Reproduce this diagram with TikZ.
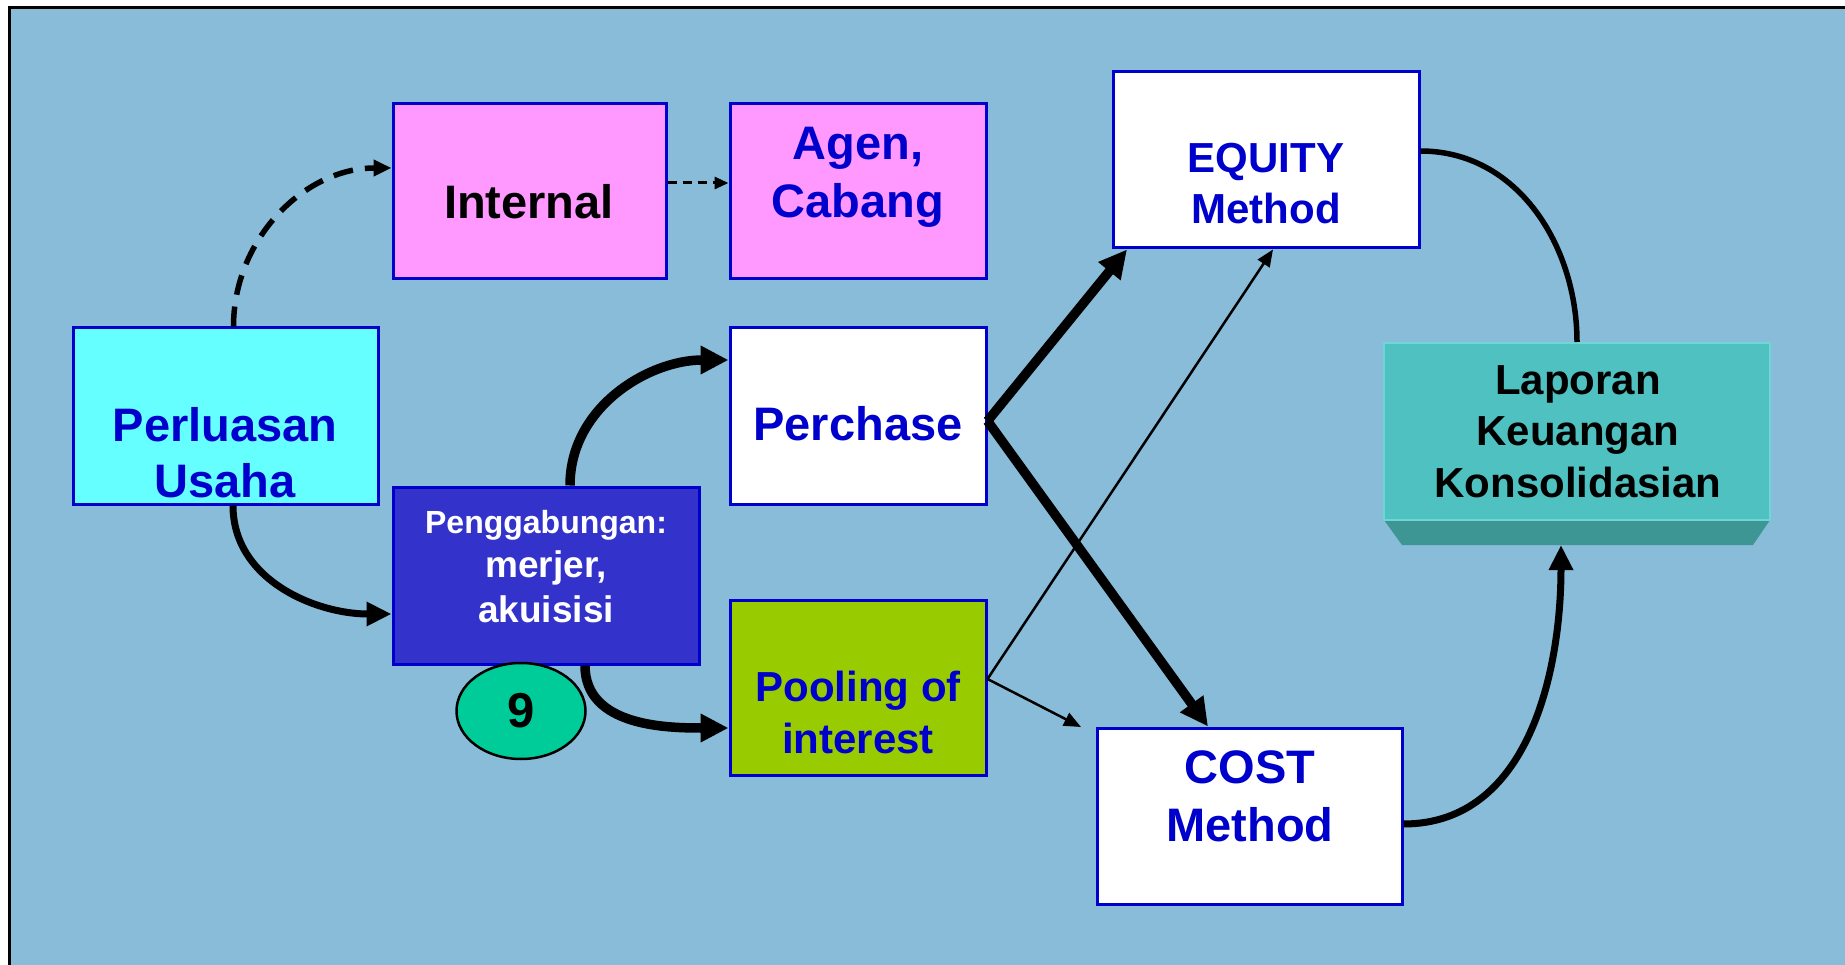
\documentclass[tikz,border=0pt]{standalone}
\usepackage{fontspec}
\setmainfont{Liberation Sans}
\usetikzlibrary{arrows.meta,calc,shapes.geometric}
\definecolor{bgblue}{RGB}{136,188,216}
\definecolor{boxblue}{RGB}{0,0,204}
\definecolor{cyanbox}{RGB}{102,255,255}
\definecolor{pinkbox}{RGB}{255,153,255}
\definecolor{mergebox}{RGB}{51,51,204}
\definecolor{poolbox}{RGB}{153,204,0}
\definecolor{ninefill}{RGB}{0,204,153}
\definecolor{lapface}{RGB}{79,193,193}
\definecolor{lapedge}{RGB}{110,214,214}
\definecolor{lapbevel}{RGB}{61,150,147}
\tikzset{
  chartbox/.style={draw=boxblue, line width=3pt, inner sep=0pt},
  charttext/.style={anchor=base, align=center, inner sep=0pt, font=\bfseries},
  bigtext/.style={charttext, font=\fontsize{47pt}{56pt}\selectfont\bfseries},
  midtext/.style={charttext, font=\fontsize{42pt}{51pt}\selectfont\bfseries},
  thinarrow/.style={line width=2.5pt, -{Triangle[length=17pt,width=14pt]}},
  medarrow/.style={line width=7pt, -{Triangle[length=25pt,width=23pt]}},
  heavyarrow/.style={line width=9.5pt, -{Triangle[length=28pt,width=27pt]}},
  dasharrow/.style={line width=5.5pt, dash pattern=on 20pt off 12pt, -{Triangle[length=18pt,width=16pt]}},
}
\begin{document}
\begin{tikzpicture}[x=1pt, y=1pt]
  \useasboundingbox (0,0) rectangle (1845,-965);
  \fill[white] (0,0) rectangle (1845,-965);
  \fill[bgblue] (9.5,-8) rectangle (1845,-965);
  \draw[line width=3pt] (9.5,-965) -- (9.5,-8) -- (1845,-8);

  % boxes
  \node[chartbox, fill=cyanbox, minimum width=305pt, minimum height=176pt] (perluasan) at (225.5,-416) {};
  \node[chartbox, fill=pinkbox, minimum width=273pt, minimum height=175pt] (internal) at (529.5,-191.5) {};
  \node[chartbox, fill=pinkbox, minimum width=256pt, minimum height=175pt] (agen) at (858,-191.5) {};
  \node[chartbox, fill=white, minimum width=256pt, minimum height=176pt] (perchase) at (858,-416) {};
  \node[chartbox, fill=mergebox, minimum width=306pt, minimum height=177pt] (merger) at (546,-575.5) {};
  \node[chartbox, fill=poolbox, minimum width=256pt, minimum height=175pt] (pooling) at (858,-687.5) {};
  \node[chartbox, fill=white, minimum width=306pt, minimum height=176pt] (equity) at (1266,-160) {};
  \node[chartbox, fill=white, minimum width=305pt, minimum height=176pt] (cost) at (1249.5,-816) {};
  \fill[lapbevel] (1384,-520) -- (1770,-520) -- (1753,-545) -- (1402,-545) -- cycle;
  \node[draw=lapedge, line width=2pt, fill=lapface, minimum width=386pt, minimum height=177pt] (laporan) at (1577,-431.5) {};
  \coordinate (lapbase) at (1561,-545);
  \node[ellipse, draw, line width=2.5pt, fill=ninefill, minimum width=129pt, minimum height=96pt, inner sep=0pt,
    font=\fontsize{49pt}{56pt}\selectfont\bfseries] (nine) at (521,-711) {9};

  % texts (base = last line)
  \node[bigtext, text=boxblue] (perluasan-t) at (225,-497) {Perluasan\\Usaha};
  \node[bigtext] (internal-t) at (529,-219) {Internal};
  \node[bigtext, text=boxblue, font=\fontsize{47pt}{58pt}\selectfont\bfseries] (agen-t) at (858,-218) {Agen,\\Cabang};
  \node[bigtext, text=boxblue] (perchase-t) at (858,-440) {Perchase};
  \node[charttext, text=white, font=\fontsize{37pt}{44.5pt}\selectfont\bfseries] (merger-t) at (546,-622)
    {{\fontsize{32pt}{44.5pt}\selectfont Penggabungan:}\\merjer,\\akuisisi};
  \node[midtext, text=boxblue, font=\fontsize{42pt}{52pt}\selectfont\bfseries] (pooling-t) at (858,-753) {Pooling of\\interest};
  \node[midtext, text=boxblue] (equity-t) at (1266,-224) {EQUITY\\Method};
  \node[bigtext, text=boxblue, font=\fontsize{47pt}{58pt}\selectfont\bfseries] (cost-t) at (1250,-841) {COST\\Method};
  \node[midtext, font=\fontsize{42pt}{51.5pt}\selectfont\bfseries] (laporan-t) at (1578,-497) {Laporan\\Keuangan\\Konsolidasian};

  % connectors
  \coordinate (costgap) at (1081,-727);
  \draw[dasharrow] ([xshift=8pt]perluasan.north) to[out=90,in=180] ([yshift=23.5pt]internal.west);
  \draw[line width=3pt, dash pattern=on 9pt off 6pt, -{Triangle[length=14pt,width=12pt]}]
    ([yshift=8.5pt]internal.east) -- ([yshift=8.5pt]agen.west);
  \draw[medarrow] ([xshift=7.5pt]perluasan.south) to[out=-90,in=180] ([yshift=-38.5pt]merger.west);
  \draw[heavyarrow] ([xshift=24pt]merger.north) to[out=90,in=180] ([yshift=56pt]perchase.west);
  \draw[heavyarrow] ([xshift=39pt]merger.south) to[out=-90,in=180] ([yshift=-40.5pt]pooling.west);
  \draw[heavyarrow] ([yshift=-5pt]perchase.east) -- ([xshift=-139pt]equity.south);
  \draw[heavyarrow] ([yshift=-5pt]perchase.east) -- ([xshift=-41.5pt]cost.north);
  \draw[thinarrow] ([yshift=8.5pt]pooling.east) -- ([xshift=7pt]equity.south);
  \draw[thinarrow] ([yshift=8.5pt]pooling.east) -- (costgap);
  \draw[line width=5.5pt] ([yshift=9pt]equity.east) to[out=0,in=90] (laporan.north);
  \draw[medarrow] ([yshift=-8pt]cost.east) to[out=0,in=-90] (lapbase);
\end{tikzpicture}
\end{document}
